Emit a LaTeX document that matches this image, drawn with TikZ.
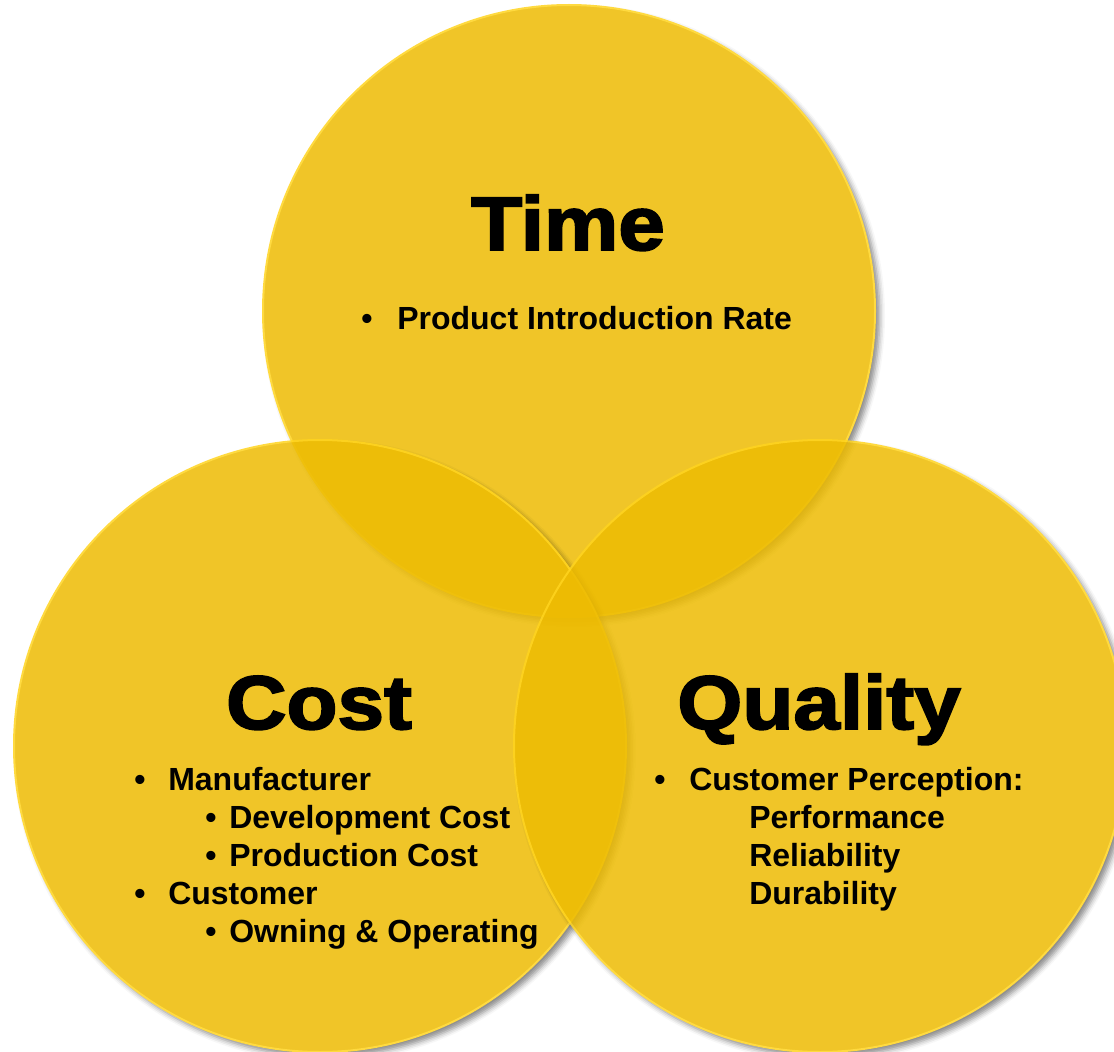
\documentclass[tikz,border=0pt]{standalone}
\usepackage{fontspec}
\setmainfont{Liberation Sans}
\newfontfamily\headfont[FakeBold=2.5,FakeStretch=1.1]{Liberation Sans Bold}
\usetikzlibrary{shadows.blur}
\definecolor{vennyellow}{RGB}{237,187,2}
\definecolor{rimyellow}{RGB}{255,212,30}
\tikzstyle{venn}=[fill=vennyellow,draw=rimyellow,line width=1.5pt,blur shadow={shadow xshift=3.5pt,shadow yshift=-3.5pt,shadow blur radius=4pt,shadow opacity=55}]
\tikzstyle{head}=[font=\headfont\fontsize{57}{60}\selectfont,anchor=base,inner sep=0pt]
\tikzstyle{item}=[font=\bfseries\fontsize{24}{29}\selectfont,anchor=base west,inner sep=0pt]
\begin{document}
\begin{tikzpicture}[x=0.75pt,y=-0.75pt]
  \useasboundingbox (0,0) rectangle (1114,1052);
  \clip (0,0) rectangle (1114,1052);

  % the three sets
  \begin{scope}[transparency group,opacity=0.85]
    \path[venn] (569,311) circle (229.5pt);
  \end{scope}
  \begin{scope}[transparency group,opacity=0.85]
    \path[venn] (320,746) circle (229.5pt);
  \end{scope}
  \begin{scope}[transparency group,opacity=0.85]
    \path[venn] (820,746) circle (229.5pt);
  \end{scope}

  % Time
  \node[head] (timehead) at (568,250) {Time};
  \node[item] (timebullet) at (361,329) {•};
  \node[item] (timerate) at (397,329) {Product Introduction Rate};

  % Cost
  \node[head] (costhead) at (319,729) {Cost};
  \node[item] (costbulletA) at (134,790) {•};
  \node[item] (costmaker) at (168,790) {Manufacturer};
  \node[item] (costbulletB) at (205,828) {•};
  \node[item] (costdev) at (229,828) {Development Cost};
  \node[item] (costbulletC) at (205,866) {•};
  \node[item] (costprod) at (229,866) {Production Cost};
  \node[item] (costbulletD) at (134,904) {•};
  \node[item] (costcust) at (168,904) {Customer};
  \node[item] (costbulletE) at (205,942) {•};
  \node[item] (costown) at (229,942) {Owning \& Operating};

  % Quality
  \node[head] (qualhead) at (819,729) {Quality};
  \node[item] (qualbullet) at (654,790) {•};
  \node[item] (qualperc) at (689,790) {Customer Perception:};
  \node[item] (qualperf) at (749,828) {Performance};
  \node[item] (qualrel) at (749,866) {Reliability};
  \node[item] (qualdur) at (749,904) {Durability};
\end{tikzpicture}
\end{document}
